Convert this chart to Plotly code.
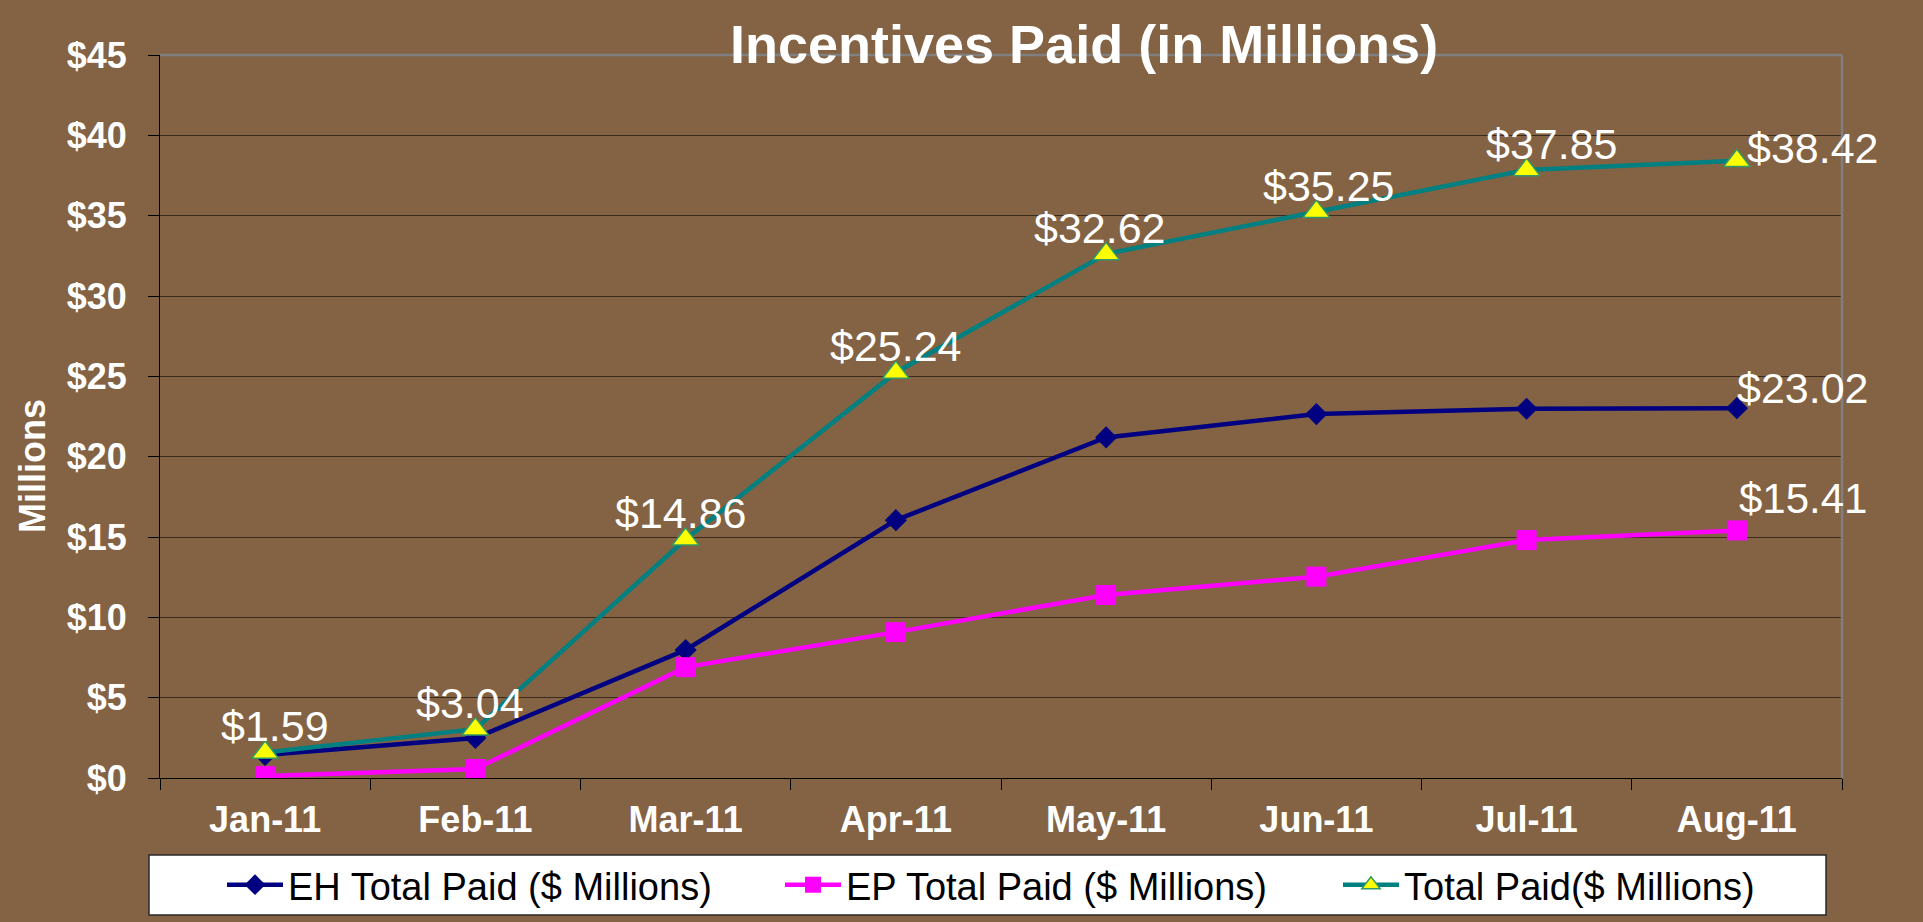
import plotly.graph_objects as go

months = ["Jan-11", "Feb-11", "Mar-11", "Apr-11", "May-11", "Jun-11", "Jul-11", "Aug-11"]
eh_paid = [1.43, 2.49, 7.97, 16.05, 21.2, 22.65, 22.98, 23.02]
ep_paid = [0.12, 0.56, 6.9, 9.08, 11.39, 12.53, 14.81, 15.41]
total_paid = [1.59, 3.04, 14.86, 25.24, 32.62, 35.25, 37.85, 38.42]
series_names = ["EH Total Paid ($ Millions)", "EP Total Paid ($ Millions)", "Total Paid($ Millions)"]
title_text = "Incentives Paid (in Millions)"
y_title = "Millions"

FONT = "Liberation Sans, Arial, sans-serif"
BG = "#836343"
W, H = 1923, 922
plot_l, plot_r, plot_t, plot_b = 160, 1842, 55, 778


def px_x(px):
    return (px - plot_l) / (plot_r - plot_l)


def px_y(py):
    return (plot_b - py) / (plot_b - plot_t)


fig = go.Figure()
fig.add_trace(go.Scatter(
    x=months, y=eh_paid, name=series_names[0], mode="lines+markers",
    line=dict(color="#000080", width=4.5),
    marker=dict(symbol="diamond", size=17, color="#000080"),
))
fig.add_trace(go.Scatter(
    x=months, y=ep_paid, name=series_names[1], mode="lines+markers",
    line=dict(color="#FF00FF", width=4.5),
    marker=dict(symbol="square", size=20, color="#FF00FF"),
))
fig.add_trace(go.Scatter(
    x=months, y=total_paid, name=series_names[2], mode="lines+markers",
    line=dict(color="#008080", width=4.5),
    marker=dict(symbol="triangle-up", size=23, color="#FFFF00",
                line=dict(color="#339966", width=1.5)),
))

annotations = []
total_xshift = [10, -5, -5, 0, -6, 13, 25, 8]
for i, (m, v) in enumerate(zip(months, total_paid)):
    last = i == len(months) - 1
    annotations.append(dict(
        x=m, y=v, xref="x", yref="y", text=f"${v:.2f}", showarrow=False,
        xanchor="left" if last else "center",
        yanchor="middle" if last else "bottom",
        xshift=total_xshift[i], yshift=13 if last else 0,
        font=dict(family=FONT, size=43, color="white"),
    ))
annotations.append(dict(
    x=months[-1], y=eh_paid[-1], xref="x", yref="y", text=f"${eh_paid[-1]:.2f}",
    showarrow=False, xanchor="left", yanchor="bottom", xshift=-2, yshift=-6,
    font=dict(family=FONT, size=43, color="white"),
))
annotations.append(dict(
    x=months[-1], y=ep_paid[-1], xref="x", yref="y", text=f"${ep_paid[-1]:.2f}",
    showarrow=False, xanchor="left", yanchor="bottom", xshift=0, yshift=6,
    font=dict(family=FONT, size=42, color="white"),
))
annotations.append(dict(
    x=px_x(1084), y=px_y(44), xref="paper", yref="paper", text=f"<b>{title_text}</b>",
    showarrow=False, xanchor="center", yanchor="middle",
    font=dict(family=FONT, size=54, color="white"),
))
annotations.append(dict(
    x=px_x(32), y=px_y(466), xref="paper", yref="paper", text=f"<b>{y_title}</b>",
    showarrow=False, textangle=-90, xanchor="center", yanchor="middle",
    font=dict(family=FONT, size=36, color="white"),
))

fig.update_layout(
    width=W, height=H,
    paper_bgcolor=BG, plot_bgcolor=BG,
    margin=dict(l=plot_l, r=W - plot_r, t=plot_t, b=H - plot_b, pad=0, autoexpand=False),
    font=dict(family=FONT, color="white"),
    showlegend=True,
    legend=dict(
        orientation="h", x=px_x(222), xanchor="left",
        y=px_y(885), yanchor="middle",
        bgcolor="rgba(0,0,0,0)", borderwidth=0,
        font=dict(family=FONT, size=38, color="black"),
        entrywidth=487, entrywidthmode="pixels",
        itemwidth=56,
    ),
    annotations=annotations,
    shapes=[
        dict(type="rect", xref="paper", yref="paper",
             x0=px_x(149), x1=px_x(1826), y0=px_y(915), y1=px_y(855),
             fillcolor="white", line=dict(color="#2a2a2a", width=1.5), layer="below"),
        dict(type="line", xref="paper", yref="paper", x0=0, x1=1, y0=1, y1=1,
             line=dict(color="#808080", width=2.5)),
        dict(type="line", xref="paper", yref="paper", x0=1, x1=1, y0=0, y1=1,
             line=dict(color="#808080", width=2.5)),
    ],
)
fig.update_xaxes(
    type="category", range=[-0.5, len(months) - 0.5], automargin=False,
    showgrid=False, showline=True, linecolor="black", linewidth=1,
    ticks="outside", tickson="boundaries", ticklen=11, tickcolor="black",
    tickfont=dict(family=FONT, size=36, color="white"),
    ticklabelstandoff=10,
    tickvals=months, ticktext=[f"<b>{m}</b>" for m in months],
)
fig.update_yaxes(
    range=[0, 45], dtick=5, tick0=0, automargin=False,
    tickprefix="<b>$", ticksuffix="</b>",
    showgrid=True, gridcolor="#3a2b1d", gridwidth=1,
    zeroline=False, showline=True, linecolor="black", linewidth=1,
    ticks="outside", ticklen=11, tickcolor="black",
    tickfont=dict(family=FONT, size=36, color="white"),
    ticklabelstandoff=14,
)

fig.write_html(
    "out.html",
    config={"displayModeBar": False},
    post_script="document.body.style.margin='0';document.body.style.overflow='hidden';"
                "document.body.style.background='" + BG + "';",
)
